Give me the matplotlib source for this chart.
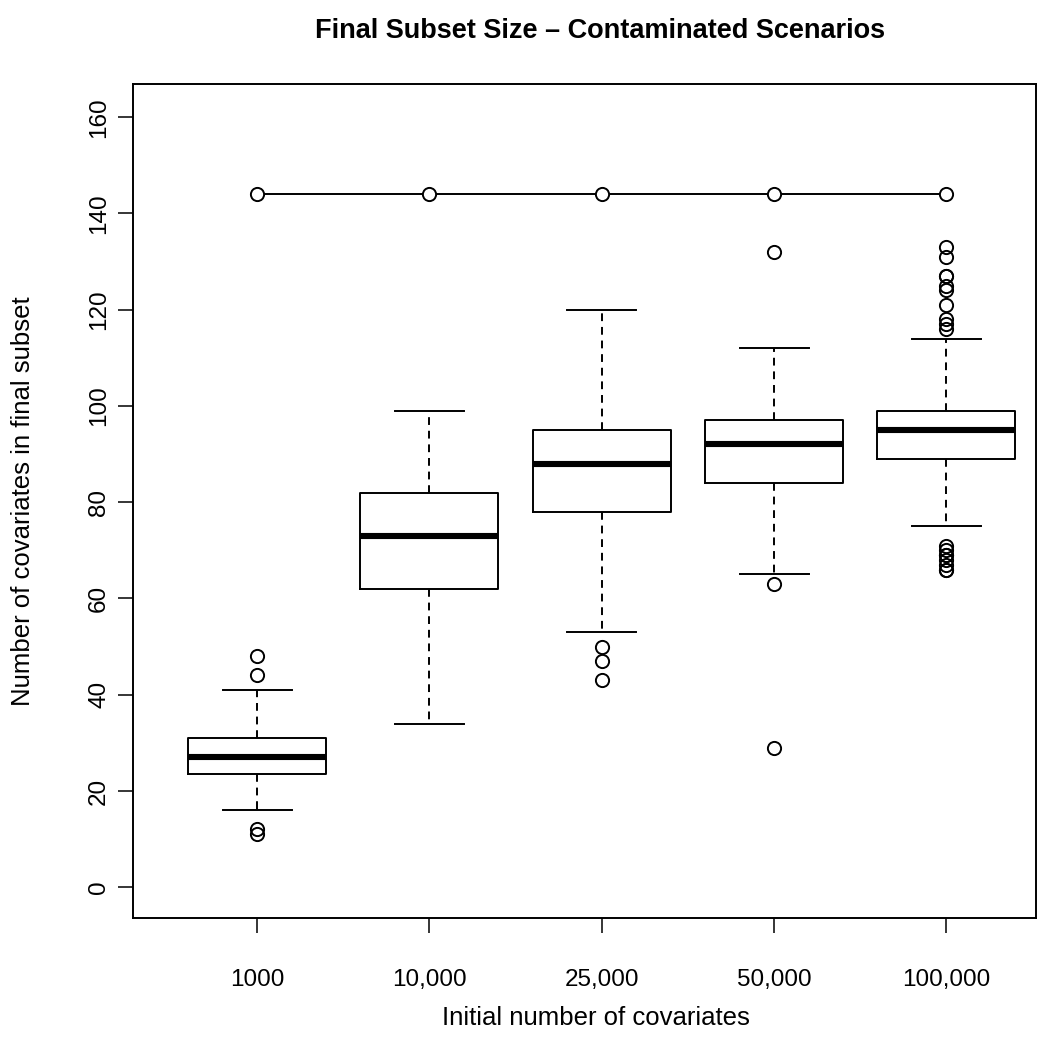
import matplotlib
matplotlib.use("Agg")
import matplotlib.pyplot as plt
import numpy as np


# summary statistics per scenario (initial number of covariates)
labels = ["1000", "10,000", "25,000", "50,000", "100,000"]
whisker_low = [16, 34, 53, 65, 75]
q1 = [23.5, 62, 78, 84, 89]
medians = [27, 73, 88, 92, 95]
q3 = [31, 82, 95, 97, 99]
whisker_high = [41, 99, 120, 112, 114]
outliers = [
    [48, 44, 12, 11],
    [],
    [50, 47, 43],
    [132, 63, 29],
    [133, 131, 127, 127, 125, 124, 121, 118, 117, 116,
     71, 70, 69, 69, 68, 67, 66, 66],
]
# size of the full candidate set, drawn as a reference line
full_size = [144, 144, 144, 144, 144]


def main():
    plt.rcParams['font.family'] = ['Liberation Sans', 'DejaVu Sans']

    fig = plt.figure(figsize=(10.59, 10.49), dpi=100)
    ax = fig.add_axes([0.1256, 0.1249, 0.9783 - 0.1256, 0.9199 - 0.1249])

    stats = []
    for i in range(len(labels)):
        stats.append(dict(whislo=whisker_low[i], q1=q1[i], med=medians[i],
                          q3=q3[i], whishi=whisker_high[i],
                          fliers=outliers[i], label=labels[i]))

    pos = np.arange(1, len(labels) + 1)
    lw = 1.4
    ax.bxp(stats, positions=pos, widths=0.8, showfliers=True,
           boxprops=dict(color='black', linewidth=lw),
           medianprops=dict(color='black', linewidth=4.4, solid_capstyle='butt'),
           whiskerprops=dict(color='black', linewidth=lw, linestyle=(0, (4, 3))),
           capprops=dict(color='black', linewidth=lw),
           capwidths=0.4,
           flierprops=dict(marker='o', markersize=9.5, markerfacecolor='none',
                           markeredgecolor='black', markeredgewidth=lw))

    ax.plot(pos, full_size, color='black', linewidth=lw, marker='o',
            markersize=9.5, markerfacecolor='white', markeredgecolor='black',
            markeredgewidth=lw, zorder=5)

    ax.set_xlim(0.28, 5.52)
    ax.set_ylim(-6.4, 166.9)
    ax.set_xticks(pos)
    ax.set_xticklabels(labels)
    ax.set_yticks(np.arange(0, 161, 20))
    for t in ax.get_yticklabels():
        t.set_rotation(90)
        t.set_va('center')
    ax.tick_params(axis='both', labelsize=17.5, length=11, width=1.1,
                   direction='out', color='black')
    ax.tick_params(axis='x', pad=26)
    ax.tick_params(axis='y', pad=5.5)
    for s in ax.spines.values():
        s.set_linewidth(1.4)

    ax.set_xlabel("Initial number of covariates", fontsize=18.5, va='center')
    ax.set_ylabel("Number of covariates in final subset", fontsize=18.5, va='center')
    ax.xaxis.set_label_coords(0.513, -0.1195)
    ax.yaxis.set_label_coords(-0.1218, 0.5)
    fig.text(0.5666, 0.9705, "Final Subset Size \u2013 Contaminated Scenarios",
             ha='center', va='center', fontsize=19.5, fontweight='bold')

    fig.savefig("out.png", dpi=100)


if __name__ == '__main__':
    main()
